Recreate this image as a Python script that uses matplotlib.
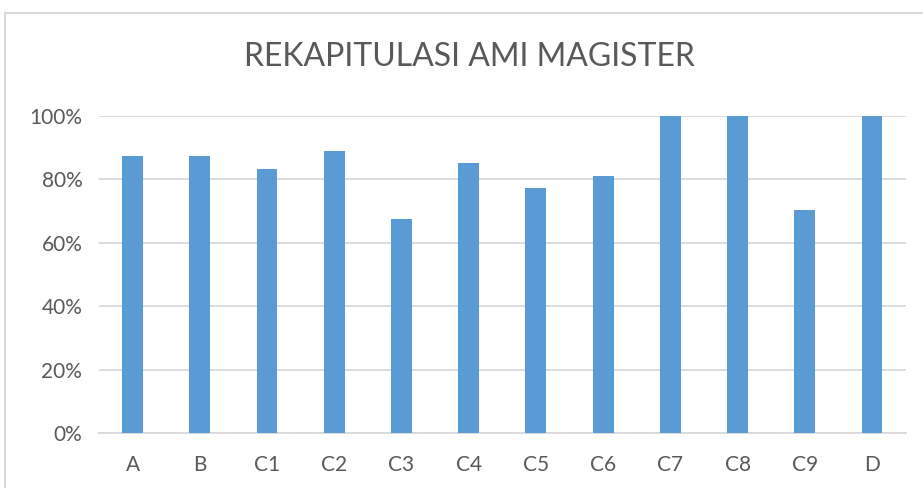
import matplotlib.pyplot as plt
from matplotlib.patches import Rectangle
from matplotlib.ticker import PercentFormatter

categories = ["A", "B", "C1", "C2", "C3", "C4", "C5", "C6", "C7", "C8", "C9", "D"]
scores = [0.875, 0.875, 0.833, 0.889, 0.675, 0.852, 0.773, 0.811, 1.0, 1.0, 0.703, 1.0]
yticks = [0, 0.2, 0.4, 0.6, 0.8, 1.0]

plt.rcParams['font.family'] = ['Lato', 'DejaVu Sans']

fig = plt.figure(figsize=(9.23, 4.88), dpi=100)
ax = fig.add_axes([0.1073, 0.1127, 0.8738, 0.6496])

# chart frame (cut off at right and bottom like the screenshot)
fig.patches.append(Rectangle((5 / 923, -0.2), 2, 1.2 - 13 / 488, transform=fig.transFigure,
                             fill=False, edgecolor="#d9d9d9", linewidth=1.5))

x = range(len(categories))
ax.bar(x, scores, width=0.31, color="#5b9bd5", zorder=3)

ax.set_xlim(-0.5, len(categories) - 0.5)
ax.set_ylim(0, 1)
ax.set_yticks(yticks)
ax.yaxis.set_major_formatter(PercentFormatter(1.0, decimals=0))
ax.set_xticks(list(x))
ax.set_xticklabels(categories)

ax.grid(axis="y", color="#d9d9d9", linewidth=1.3, zorder=0)
for s in ["top", "right", "left"]:
    ax.spines[s].set_visible(False)
ax.spines["bottom"].set_color("#d9d9d9")
ax.spines["bottom"].set_linewidth(1.3)
ax.tick_params(axis="both", length=0, labelsize=15, labelcolor="#595959")
ax.tick_params(axis="x", pad=16)
ax.tick_params(axis="y", pad=12)

fig.text(0.509, 0.883, "REKAPITULASI AMI MAGISTER", ha="center", va="center",
         fontsize=23, color="#595959")

fig.savefig("out.png", dpi=100)
